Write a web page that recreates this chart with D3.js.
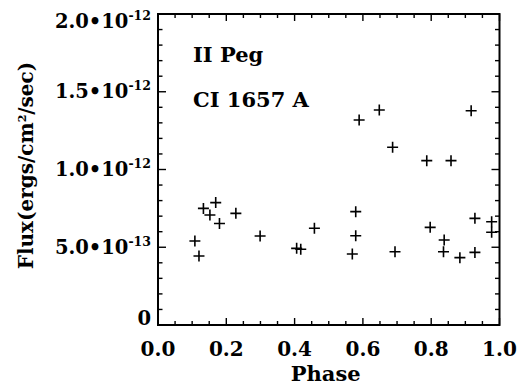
<!DOCTYPE html>
<html>
<head>
<meta charset="utf-8">
<script src="https://cdn.jsdelivr.net/npm/d3@7/dist/d3.min.js"></script>
<style>
html,body{margin:0;padding:0;background:#fff;}
svg{display:block;}
text{font-family:"DejaVu Serif",serif;font-weight:bold;fill:#000;}
</style>
</head>
<body>
<script>
// Data (flux in units of 1e-13 ergs/cm^2/sec)
const phase = [0.108,0.120,0.133,0.169,0.152,0.180,0.228,0.299,0.406,0.418,0.458,0.569,0.579,0.579,0.589,0.648,0.687,0.694,0.787,0.797,0.836,0.838,0.858,0.884,0.917,0.928,0.928,0.977,0.977];
const flux  = [5.40,4.44,7.50,7.87,7.07,6.53,7.18,5.72,4.93,4.87,6.22,4.57,5.74,7.29,13.18,13.83,11.43,4.71,10.57,6.28,4.71,5.47,10.57,4.33,13.78,4.67,6.86,6.64,5.96];
const xTicks = [0,0.2,0.4,0.6,0.8,1.0];
const xTickLabels = ["0.0","0.2","0.4","0.6","0.8","1.0"];
const yTicks = [0,5,10,15,20];
const yMant = ["0","5.0","1.0","1.5","2.0"];
const yExp  = ["","-13","-12","-12","-12"];
const labels = ["II Peg","CI 1657 A"];

const W=524,H=392;
const m={l:158,t:14,r:24.5,b:67};
const pw=W-m.l-m.r, ph=H-m.t-m.b;
const svg=d3.select("body").append("svg").attr("width",W).attr("height",H);
const g=svg.append("g").attr("transform",`translate(${m.l},${m.t})`);
const x=d3.scaleLinear().domain([0,1]).range([0,pw]);
const y=d3.scaleLinear().domain([0,20]).range([ph,0]);

const xMinor=d3.range(0,1.0001,0.05);
const yMinor=d3.range(0,20.001,1);
const xMaj=7,xMin=4,yMaj=8,yMin=4.5;

const ticks=g.append("g").attr("stroke","#000").attr("stroke-width",1.4);
xMinor.forEach(v=>{
  const major=xTicks.some(t=>Math.abs(t-v)<1e-6);
  const L=major?xMaj:xMin;
  ticks.append("line").attr("x1",x(v)).attr("x2",x(v)).attr("y1",ph).attr("y2",ph-L);
  ticks.append("line").attr("x1",x(v)).attr("x2",x(v)).attr("y1",0).attr("y2",L);
});
yMinor.forEach(v=>{
  const major=yTicks.some(t=>Math.abs(t-v)<1e-6);
  const L=major?yMaj:yMin;
  ticks.append("line").attr("x1",0).attr("x2",L).attr("y1",y(v)).attr("y2",y(v));
  ticks.append("line").attr("x1",pw).attr("x2",pw-L).attr("y1",y(v)).attr("y2",y(v));
});
g.append("rect").attr("x",0).attr("y",0).attr("width",pw).attr("height",ph)
 .attr("fill","none").attr("stroke","#000").attr("stroke-width",2);

// x tick labels
g.selectAll(".xl").data(xTicks).enter().append("text")
 .attr("x",d=>x(d)).attr("y",ph+31).attr("text-anchor","middle")
 .attr("font-size",20).text((d,i)=>xTickLabels[i]);

// y tick labels
yTicks.forEach((v,i)=>{
  let dy=6.5;
  if(i===0) dy=0;
  if(i===yTicks.length-1) dy=14;
  const t=g.append("text").attr("x",-7).attr("y",y(v)+dy).attr("text-anchor","end").attr("font-size",19.5);
  if(yExp[i]===""){ t.text(yMant[i]); }
  else{
    t.append("tspan").text(yMant[i]+"\u2022"+"10");
    t.append("tspan").attr("dy",-8).attr("font-size",12.5).text(yExp[i]);
  }
});

// axis titles
svg.append("text").attr("x",m.l+pw/2-3).attr("y",381).attr("text-anchor","middle")
 .attr("font-size",21).text("Phase");
const yt=svg.append("text").attr("transform",`translate(33,${m.t+ph/2-4}) rotate(-90)`)
 .attr("text-anchor","middle").attr("font-size",20);
yt.append("tspan").text("Flux(ergs/cm");
yt.append("tspan").attr("dy",-7).attr("font-size",11).text("2");
yt.append("tspan").attr("dy",7).text("/sec)");

// annotations
g.append("text").attr("x",35).attr("y",48).attr("font-size",21).text(labels[0]);
g.append("text").attr("x",35).attr("y",93).attr("font-size",21).text(labels[1]);

// points
const s=5.5;
const pts=g.append("g").attr("stroke","#000").attr("stroke-width",1.6);
phase.forEach((p,i)=>{
  const cx=x(p), cy=y(flux[i]);
  pts.append("path").attr("d",`M${cx-s},${cy}H${cx+s}M${cx},${cy-s}V${cy+s}`);
});
</script>
</body>
</html>
